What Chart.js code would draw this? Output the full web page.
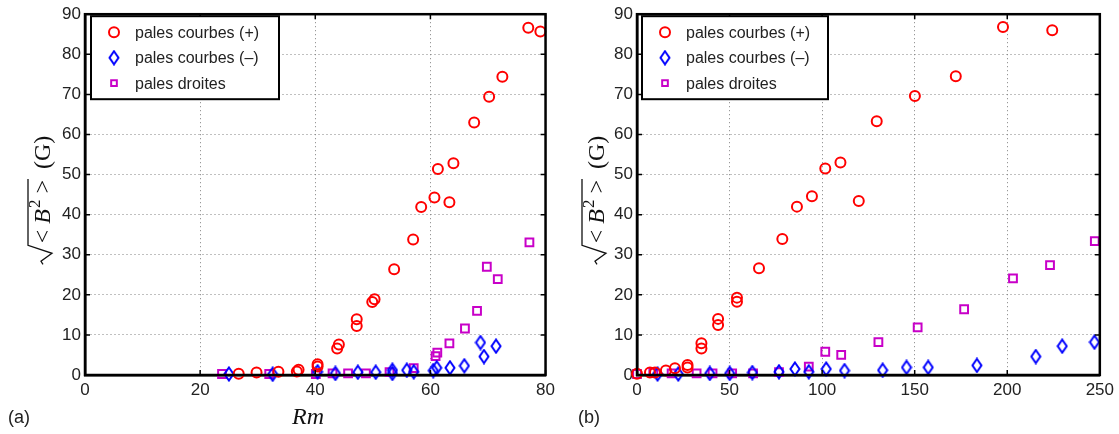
<!DOCTYPE html>
<html>
<head>
<meta charset="utf-8">
<script src="https://cdn.jsdelivr.net/npm/chart.js@4.4.1/dist/chart.umd.min.js"></script>
<style>
html, body { margin: 0; padding: 0; background: #fff; }
#wrap { position: relative; width: 1119px; height: 434px; }
.panel { position: absolute; top: 0; height: 434px; }
#left { left: 0; width: 560px; }
#right { left: 560px; width: 559px; }
</style>
</head>
<body>
<div id="wrap">
  <div class="panel" id="left"><canvas id="chartRm"></canvas></div>
  <div class="panel" id="right"><canvas id="chartP"></canvas></div>
</div>
<script>
// series names
const seriesNames = ['pales courbes (+)', 'pales courbes (–)', 'pales droites'];

// ticks
const rmTicks = [0, 20, 40, 60, 80];
const pTicks = [0, 50, 100, 150, 200, 250];
const bTicks = [0, 10, 20, 30, 40, 50, 60, 70, 80, 90];

// (a) B rms vs Rm
const rmPlus = [26.7, 29.8, 33.6, 36.8, 37.1, 40.4, 40.4, 43.8, 44.1, 47.2, 47.2, 49.9, 50.3, 53.7, 57.0, 58.4, 60.7, 61.3, 63.3, 64.0, 67.6, 70.2, 72.5, 77.0, 79.1];
const bPlusRm = [0.3, 0.6, 0.8, 0.9, 1.3, 2.1, 2.7, 6.6, 7.6, 12.2, 13.9, 18.2, 18.9, 26.4, 33.8, 41.9, 44.3, 51.4, 43.1, 52.8, 63.0, 69.4, 74.4, 86.6, 85.7];
const rmMinus = [25.0, 32.6, 40.4, 43.5, 47.4, 50.5, 53.4, 53.4, 55.9, 57.1, 60.5, 61.1, 63.4, 65.9, 68.7, 69.3, 71.4];
const bMinusRm = [0.25, 0.2, 0.8, 0.4, 0.7, 0.7, 1.2, 0.4, 1.2, 0.8, 1.1, 1.8, 1.8, 2.3, 8.1, 4.6, 7.2];
const rmStraight = [23.8, 32.0, 40.1, 43.0, 45.7, 48.8, 52.9, 57.1, 60.9, 61.2, 63.3, 66.0, 68.1, 69.8, 71.7, 77.2];
const bStraightRm = [0.25, 0.25, 0.25, 0.4, 0.4, 0.4, 0.7, 1.7, 4.7, 5.6, 7.9, 11.6, 16.0, 27.0, 23.9, 33.1];

// (b) B rms vs P (kW)
const pPlus = [0, 7.0, 9.7, 15.6, 20.5, 27.3, 27.3, 34.8, 34.8, 43.8, 43.8, 54.0, 54.0, 65.9, 78.5, 86.4, 94.5, 101.7, 109.9, 119.8, 129.5, 150.1, 172.2, 197.7, 224.3];
const bPlusP = [0.3, 0.6, 0.6, 1.1, 1.7, 1.9, 2.5, 6.6, 7.9, 12.5, 14.0, 18.3, 19.3, 26.6, 33.9, 42.0, 44.6, 51.5, 53.0, 43.4, 63.3, 69.6, 74.5, 86.8, 86.0];
const pMinus = [11.1, 22.3, 39.3, 50.1, 62.3, 76.7, 85.3, 92.8, 102.2, 112.1, 132.7, 145.6, 157.3, 183.6, 215.4, 229.7, 247.1];
const bMinusP = [0.25, 0.25, 0.4, 0.4, 0.6, 0.8, 1.5, 0.8, 1.5, 1.1, 1.2, 1.9, 1.9, 2.4, 4.6, 7.2, 8.2];
const pStraight = [0, 8.8, 18.7, 32.2, 40.8, 51.4, 62.7, 76.7, 92.8, 101.7, 110.3, 130.4, 151.6, 176.7, 203.1, 223.1, 247.3];
const bStraightP = [0.25, 0.6, 0.4, 0.4, 0.4, 0.4, 0.4, 0.7, 2.1, 5.8, 5.0, 8.2, 11.9, 16.4, 24.1, 27.4, 33.4];

const sansFont = "'Liberation Sans', Arial, sans-serif";
const serifFont = "'Liberation Serif', 'DejaVu Serif', serif";

// matlab-like tall diamond marker
function makeDiamond() {
    const c = document.createElement('canvas');
    c.width = 12; c.height = 16;
    const g = c.getContext('2d');
    g.strokeStyle = '#0000ff';
    g.lineWidth = 2;
    g.beginPath();
    g.moveTo(6, 1.5); g.lineTo(10.5, 8); g.lineTo(6, 14.5); g.lineTo(1.5, 8); g.closePath();
    g.stroke();
    return c;
}
const diamond = makeDiamond();

function pts(xs, ys) {
    return xs.map((x, i) => ({ x: x, y: ys[i] }));
}

// draws frame, inward ticks, legend, axis labels
const decor = {
    id: 'decor',
    afterDraw(chart, args, o) {
        const ctx = chart.ctx;
        const a = chart.chartArea;
        const xs = chart.scales.x, ys = chart.scales.y;
        ctx.save();
        // inward ticks
        ctx.strokeStyle = '#000';
        ctx.lineWidth = 1.5;
        ctx.beginPath();
        o.xTicks.forEach(v => {
            const px = xs.getPixelForValue(v);
            ctx.moveTo(px, a.top); ctx.lineTo(px, a.top + 5);
            ctx.moveTo(px, a.bottom); ctx.lineTo(px, a.bottom - 5);
        });
        bTicks.forEach(v => {
            const py = ys.getPixelForValue(v);
            ctx.moveTo(a.left, py); ctx.lineTo(a.left + 5, py);
            ctx.moveTo(a.right, py); ctx.lineTo(a.right - 5, py);
        });
        ctx.stroke();
        // frame
        ctx.lineWidth = 2.5;
        ctx.strokeRect(a.left, a.top, a.right - a.left, a.bottom - a.top);

        // legend
        const bx = a.left + o.legendDx, by = a.top + 2, bw = o.legendW, bh = 83;
        ctx.fillStyle = '#fff';
        ctx.fillRect(bx, by, bw, bh);
        ctx.lineWidth = 2;
        ctx.strokeStyle = '#000';
        ctx.strokeRect(bx, by, bw, bh);
        ctx.font = '16px ' + sansFont;
        ctx.textBaseline = 'middle';
        ctx.textAlign = 'left';
        chart.data.datasets.forEach((ds, i) => {
            const cy = by + 16 + i * 25.5;
            ctx.strokeStyle = ds.borderColor;
            ctx.fillStyle = 'rgba(0,0,0,0)';
            ctx.lineWidth = ds.borderWidth;
            Chart.helpers.drawPoint(ctx, {
                pointStyle: ds.pointStyle,
                radius: i === 2 ? 4 : ds.pointRadius,
                borderWidth: ds.borderWidth,
                rotation: 0
            }, bx + 23, cy);
            ctx.fillStyle = '#222';
            ctx.fillText(ds.label, bx + 44, cy + 1);
        });

        // y label: sqrt(< B^2 >) (G)
        ctx.translate(o.yLabelX, o.yLabelY);
        ctx.rotate(-Math.PI / 2);
        ctx.fillStyle = '#111';
        ctx.strokeStyle = '#111';
        ctx.textBaseline = 'alphabetic';
        const fs = 24;
        const reg = fs + 'px ' + serifFont;
        const ita = 'italic ' + fs + 'px ' + serifFont;
        const sup = '17px ' + serifFont;
        const parts = [
            { t: '<', f: reg, dy: 0, gap: 6 },
            { t: 'B', f: ita, dy: 0, gap: 1 },
            { t: '2', f: sup, dy: -10, gap: 6 },
            { t: '>', f: reg, dy: 0, gap: 2 }
        ];
        let innerW = 0;
        parts.forEach(p => { ctx.font = p.f; p.w = ctx.measureText(p.t).width; innerW += p.w + p.gap; });
        ctx.font = reg;
        const gW = ctx.measureText('(G)').width;
        const radW = 20;
        const total = radW + innerW + 10 + gW;
        let x = -total / 2;
        // radical sign
        ctx.lineWidth = 1.3;
        ctx.beginPath();
        ctx.moveTo(x, -7);
        ctx.lineTo(x + 3, -9);
        ctx.lineTo(x + 11, 2);
        ctx.lineTo(x + 19, -22);
        ctx.lineTo(x + radW + innerW, -22);
        ctx.stroke();
        x += radW + 1;
        parts.forEach(p => {
            ctx.font = p.f;
            ctx.fillText(p.t, x, p.dy);
            x += p.w + p.gap;
        });
        x += 9;
        ctx.font = reg;
        ctx.fillText('(G)', x, 0);
        ctx.setTransform(1, 0, 0, 1, 0, 0);

        // x label
        ctx.textBaseline = 'alphabetic';
        ctx.textAlign = 'left';
        ctx.fillStyle = '#111';
        const segs = o.xLabel;
        let w = 0;
        segs.forEach(s => { ctx.font = s.f; s.w = ctx.measureText(s.t).width; w += s.w; });
        let lx = o.xLabelX - w / 2;
        segs.forEach(s => { ctx.font = s.f; ctx.fillText(s.t, lx, 424); lx += s.w; });

        // panel tag
        ctx.font = '18px ' + sansFont;
        ctx.fillStyle = '#222';
        ctx.fillText(o.tag, o.tagX, 423);
        ctx.restore();
    }
};

function makeChart(id, cfg) {
    const ctx = document.getElementById(id).getContext('2d');
    return new Chart(ctx, {
        type: 'scatter',
        data: {
            datasets: [{
                label: seriesNames[0],
                data: pts(cfg.plus[0], cfg.plus[1]),
                pointStyle: 'circle',
                pointRadius: 5,
                borderColor: '#ff0000',
                backgroundColor: 'rgba(0,0,0,0)',
                borderWidth: 2,
                clip: false
            }, {
                label: seriesNames[1],
                data: pts(cfg.minus[0], cfg.minus[1]),
                pointStyle: diamond,
                pointRadius: 6,
                borderColor: '#0000ff',
                backgroundColor: 'rgba(0,0,0,0)',
                borderWidth: 2,
                clip: false
            }, {
                label: seriesNames[2],
                data: pts(cfg.straight[0], cfg.straight[1]),
                pointStyle: 'rect',
                pointRadius: 5.5,
                borderColor: '#c800c8',
                backgroundColor: 'rgba(0,0,0,0)',
                borderWidth: 2,
                clip: false
            }]
        },
        options: {
            responsive: true,
            maintainAspectRatio: false,
            animation: false,
            layout: { padding: { left: 0, right: cfg.padRight, top: 14, bottom: 0 } },
            plugins: {
                legend: { display: false },
                tooltip: { enabled: false },
                decor: cfg.decor
            },
            scales: {
                x: {
                    type: 'linear',
                    min: cfg.xTicks[0],
                    max: cfg.xTicks[cfg.xTicks.length - 1],
                    afterBuildTicks: s => { s.ticks = cfg.xTicks.map(v => ({ value: v })); },
                    afterFit: s => { s.height = 59; },
                    grid: { color: '#808080', lineWidth: 1, drawTicks: false },
                    border: { color: '#000', width: 2.5, dash: [1, 3] },
                    ticks: { color: '#222', padding: 5, font: { size: 17, family: sansFont } }
                },
                y: {
                    type: 'linear',
                    min: 0,
                    max: 90,
                    afterBuildTicks: s => { s.ticks = bTicks.map(v => ({ value: v })); },
                    afterFit: s => { s.width = cfg.yAxisW; },
                    grid: { color: '#808080', lineWidth: 1, drawTicks: false },
                    border: { color: '#000', width: 2.5, dash: [1, 3] },
                    ticks: { color: '#222', padding: 4, font: { size: 17, family: sansFont } }
                }
            }
        },
        plugins: [decor]
    });
}

makeChart('chartRm', {
    plus: [rmPlus, bPlusRm],
    minus: [rmMinus, bMinusRm],
    straight: [rmStraight, bStraightRm],
    xTicks: rmTicks,
    padRight: 11,
    yAxisW: 85,
    decor: {
        xTicks: rmTicks,
        legendDx: 6,
        legendW: 188,
        yLabelX: 50,
        yLabelY: 200,
        xLabel: [{ t: 'Rm', f: 'italic 24px ' + serifFont }],
        xLabelX: 308,
        tag: '(a)',
        tagX: 8
    }
});

makeChart('chartP', {
    plus: [pPlus, bPlusP],
    minus: [pMinus, bMinusP],
    straight: [pStraight, bStraightP],
    xTicks: pTicks,
    padRight: 18,
    yAxisW: 77,
    decor: {
        xTicks: pTicks,
        legendDx: 5,
        legendW: 186,
        yLabelX: 44,
        yLabelY: 200,
        xLabel: [{ t: 'P', f: 'italic 24px ' + serifFont }, { t: ' (kW)', f: '24px ' + serifFont }],
        xLabelX: 866,
        tag: '(b)',
        tagX: 18
    }
});
</script>
</body>
</html>
